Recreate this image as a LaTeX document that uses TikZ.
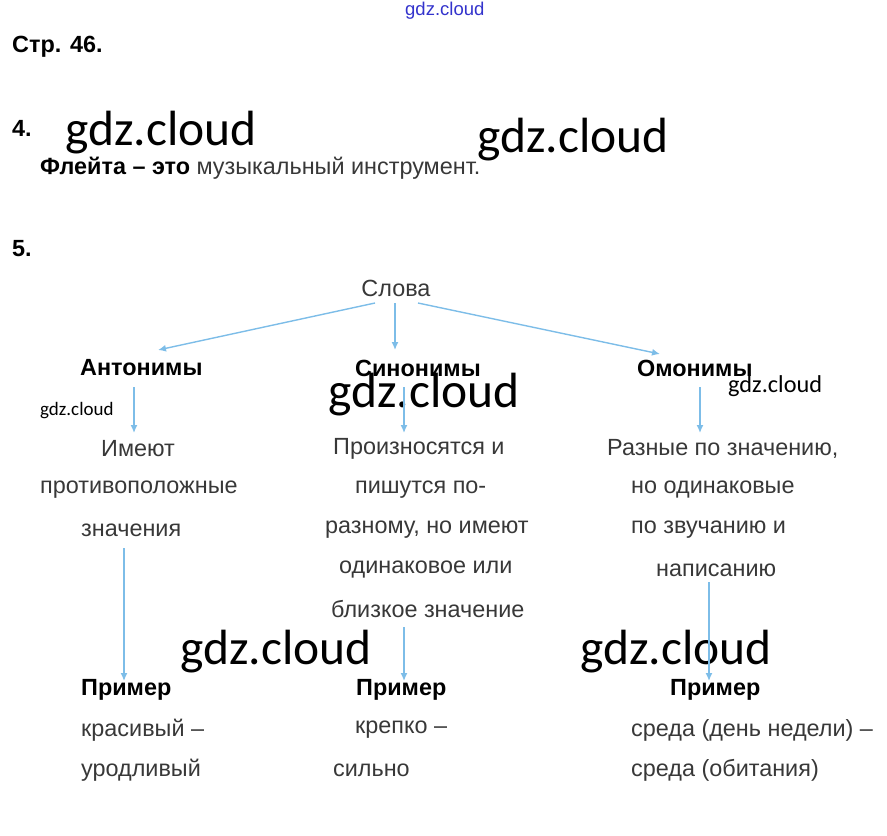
\documentclass[tikz,border=0pt]{standalone}
\usepackage{fontspec}
\setmainfont{Liberation Sans}
\newfontfamily\wmfont{Carlito}
\usetikzlibrary{arrows.meta}
\definecolor{txt}{HTML}{383838}
\definecolor{arrc}{HTML}{7DBDE8}
\definecolor{wmblue}{HTML}{3333CC}
\tikzset{
  x=1pt,y=-1pt,
  t/.style={inner sep=0pt,anchor=west,font=\fontsize{23.4}{23.4}\selectfont,text=txt},
  b/.style={inner sep=0pt,anchor=west,font=\fontsize{23.4}{23.4}\selectfont\bfseries,text=black},
  wmbig/.style={inner sep=0pt,anchor=west,font=\wmfont\fontsize{49.5}{49.5}\selectfont,text=black},
  wmsmall/.style={inner sep=0pt,anchor=west,font=\wmfont\fontsize{19}{19}\selectfont,text=black},
  arr/.style={draw=arrc,line width=1.4pt,-{Latex[length=8pt,width=7pt]}}
}
\begin{document}
\begin{tikzpicture}
\useasboundingbox (0,0) rectangle (887,836);
% header
\node[inner sep=0pt,anchor=west,font=\fontsize{18.5}{18.5}\selectfont,text=wmblue] (wtop) at (405,11) {gdz.cloud};
\node[b] (str) at (12,47) {Стр. 46.};
\node[b] (n4) at (12,128) {4.};
\node[wmbig] (w1) at (65,133) {gdz.cloud};
\node[wmbig] (w2) at (477,140) {gdz.cloud};
\node[t] (fl) at (40,168) {\textcolor{black}{\bfseries Флейта – это} музыкальный инструмент.};
\node[b] (n5) at (12,249) {5.};
% tree
\node[t,anchor=center] (slova) at (396,288) {Слова};
\node[b] (ant) at (80,368) {Антонимы};
\node[b] (syn) at (355,368) {Синонимы};
\node[b] (hom) at (637,368) {Омонимы};
\node[wmsmall] (w3) at (40,411) {gdz.cloud};
\node[wmbig] (w4) at (328,395) {gdz.cloud};
\node[wmsmall,font=\wmfont\fontsize{24.3}{24.3}\selectfont] (w5) at (728,386) {gdz.cloud};
% column 1
\node[t] (a1) at (101,449) {Имеют};
\node[t] (a2) at (40,490) {противоположные};
\node[t] (a3) at (81,530) {значения};
% column 2
\node[t] (s1) at (333,449) {Произносятся и};
\node[t] (s2) at (355,490) {пишутся по-};
\node[t] (s3) at (325,530) {разному, но имеют};
\node[t] (s4) at (339,570) {одинаковое или};
\node[t] (s5) at (331,609) {близкое значение};
% column 3
\node[t] (h1) at (607,449) {Разные по значению,};
\node[t] (h2) at (631,490) {но одинаковые};
\node[t] (h3) at (631,530) {по звучанию и};
\node[t] (h4) at (656,570) {написанию};
% examples
\node[wmbig] (w6) at (180,652) {gdz.cloud};
\node[wmbig] (w7) at (580,652) {gdz.cloud};
\node[b] (pa) at (81,690) {Пример};
\node[b] (ps) at (356,690) {Пример};
\node[b] (ph) at (670,690) {Пример};
\node[t] (ea1) at (81,730) {красивый –};
\node[t] (ea2) at (81,770) {уродливый};
\node[t] (es1) at (355,730) {крепко –};
\node[t] (es2) at (333,770) {сильно};
\node[t] (eh1) at (631,730) {среда (день недели) –};
\node[t] (eh2) at (631,770) {среда (обитания)};
% arrow coordinates
\coordinate (sl) at (375,303);
\coordinate (sm) at (395,303);
\coordinate (sr) at (418,303);
\coordinate (al) at (158,350);
\coordinate (am) at (395,350);
\coordinate (ar) at (660,354);
\coordinate (a0) at (134,387);
\coordinate (a0e) at (134,433);
\coordinate (s0) at (404,387);
\coordinate (s0e) at (404,433);
\coordinate (h0) at (700,387);
\coordinate (h0e) at (700,433);
\coordinate (b1) at (124,548);
\coordinate (b1e) at (124,681);
\coordinate (b2) at (404,627);
\coordinate (b2e) at (404,681);
\coordinate (b3) at (709,582);
\coordinate (b3e) at (709,681);
\draw[arr] (sl) -- (al);
\draw[arr] (sm) -- (am);
\draw[arr] (sr) -- (ar);
\draw[arr] (a0) -- (a0e);
\draw[arr] (s0) -- (s0e);
\draw[arr] (h0) -- (h0e);
\draw[arr] (b1) -- (b1e);
\draw[arr] (b2) -- (b2e);
\draw[arr] (b3) -- (b3e);
\end{tikzpicture}
\end{document}
